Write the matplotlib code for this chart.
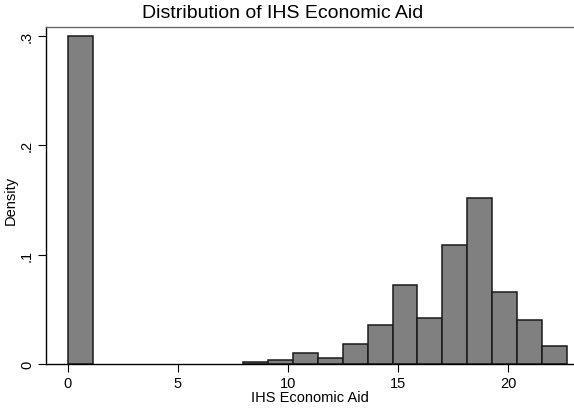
import numpy as np
import matplotlib
matplotlib.use("Agg")
import matplotlib.pyplot as plt

plt.rcParams['font.family'] = ['Liberation Sans', 'DejaVu Sans']

# Histogram of the inverse-hyperbolic-sine of economic aid (density scale)
bin_start = 0.0
bin_width = 1.135
density = [0.2998, 0.0, 0.0, 0.0, 0.0, 0.0, 0.0,
           0.0016, 0.0037, 0.0098, 0.0058, 0.0186, 0.0357,
           0.0726, 0.0424, 0.109, 0.152, 0.066, 0.040, 0.016]
x_ticks = [0, 5, 10, 15, 20]
y_ticks = [0, 0.1, 0.2, 0.3]
y_ticklabels = ["0", ".1", ".2", ".3"]

title = "Distribution of IHS Economic Aid"
xlabel = "IHS Economic Aid"
ylabel = "Density"

fig = plt.figure(figsize=(5.74, 4.10), dpi=100)
ax = fig.add_axes([0.0796, 0.1098, 0.9204, 0.8226])

edges = bin_start + bin_width * np.arange(len(density) + 1)
dens = np.array(density)
keep = dens > 0
ax.bar(edges[:-1][keep], dens[keep], width=bin_width, align='edge',
       color='#808080', edgecolor='#1a1a1a', linewidth=1.1, zorder=2)

ax.set_xlim(-1.0, 23.0)
ax.set_ylim(0, 0.3086)

ax.set_xticks(x_ticks)
ax.set_xticklabels([str(t) for t in x_ticks])
ax.set_yticks(y_ticks)
ax.set_yticklabels(y_ticklabels, rotation=90, va='center')

ax.tick_params(axis='both', which='major', length=5.5, width=0.8,
               labelsize=10.5, color='black', pad=3)

for side in ('left', 'bottom'):
    ax.spines[side].set_color('black')
    ax.spines[side].set_linewidth(1.0)
ax.spines['top'].set_color('#6a6a6a')
ax.spines['top'].set_linewidth(1.0)
ax.spines['right'].set_visible(False)

ax.set_xlabel(xlabel, fontsize=10.5)
ax.set_ylabel(ylabel, fontsize=10.5)
ax.xaxis.set_label_coords(0.5, -0.078)
ax.yaxis.set_label_coords(-0.052, 0.487)

fig.text(283 / 574, 1 - 14 / 410, title, fontsize=14, ha='center', va='center')

fig.savefig("out.png", dpi=100)
